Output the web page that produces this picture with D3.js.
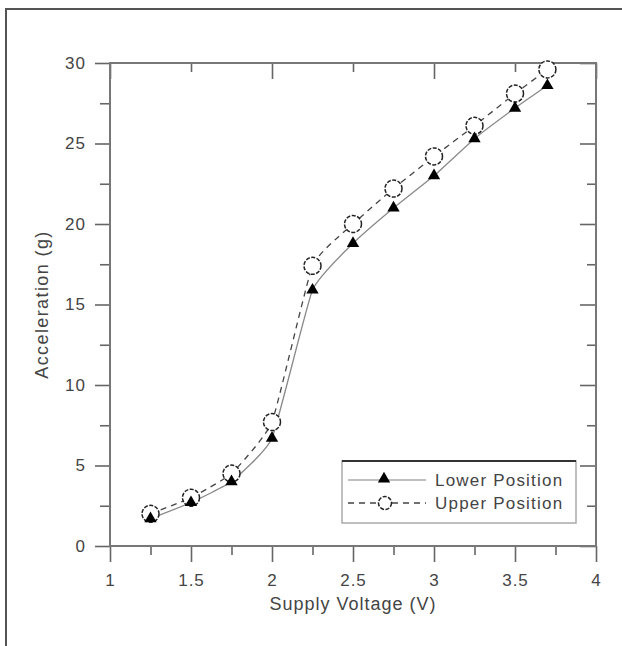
<!DOCTYPE html>
<html>
<head>
<meta charset="utf-8">
<script src="https://cdn.jsdelivr.net/npm/d3@7"></script>
<style>
  html, body { margin: 0; padding: 0; background: #fff; }
  svg text { font-family: "Liberation Sans", Arial, sans-serif; fill: #444; }
</style>
</head>
<body>
<svg id="chart" width="622" height="646"></svg>
<script>
// supply voltage (V)
const voltage = [1.25, 1.5, 1.75, 2, 2.25, 2.5, 2.75, 3, 3.25, 3.5, 3.7];
// acceleration (g)
const lowerPosition = [1.7, 2.7, 4.0, 6.7, 15.9, 18.8, 21.0, 23.0, 25.3, 27.2, 28.6];
const upperPosition = [2.0, 3.0, 4.5, 7.7, 17.4, 20.0, 22.2, 24.2, 26.1, 28.1, 29.6];

const xMajor = [1, 1.5, 2, 2.5, 3, 3.5, 4];
const xMinor = [1.25, 1.75, 2.25, 2.75, 3.25, 3.75];
const xTopMajor = [1, 2, 3, 4];
const xTopMinor = [1.5, 2.5, 3.5];
const yMajor = [0, 5, 10, 15, 20, 25, 30];
const yMinor = [2.5, 7.5, 12.5, 17.5, 22.5, 27.5];

const seriesNames = ['Lower Position', 'Upper Position'];

const LEFT = 110, RIGHT = 596, TOP = 63, BOTTOM = 546;
const MAJOR = 16, MINOR = 9;

const svg = d3.select('#chart');

// outer frame (only top and left edges visible)
svg.append('path')
    .attr('d', 'M6,646 L6,9 L622,9')
    .attr('fill', 'none')
    .attr('stroke', '#555')
    .attr('stroke-width', 2);

const x = d3.scaleLinear().domain([1, 4]).range([LEFT, RIGHT]);
const y = d3.scaleLinear().domain([0, 30]).range([BOTTOM, TOP]);

function styleAxis (g) {
    g.select('.domain').remove();
    g.selectAll('.tick line').attr('stroke', '#666').attr('stroke-width', 1.6);
    g.selectAll('.tick text')
        .attr('fill', '#444')
        .style('font-size', '17px')
        .style('letter-spacing', '1px');
}

// bottom axis
svg.append('g')
    .attr('transform', `translate(0,${BOTTOM})`)
    .call(d3.axisBottom(x).tickValues(xMajor).tickSize(MAJOR).tickPadding(12)
        .tickFormat(d3.format('')))
    .call(styleAxis);
svg.append('g')
    .attr('transform', `translate(0,${BOTTOM})`)
    .call(d3.axisBottom(x).tickValues(xMinor).tickSize(MINOR).tickFormat(''))
    .call(styleAxis);

// top axis, ticks inward
svg.append('g')
    .attr('transform', `translate(0,${TOP})`)
    .call(d3.axisTop(x).tickValues(xTopMajor).tickSize(-MAJOR).tickFormat(''))
    .call(styleAxis);
svg.append('g')
    .attr('transform', `translate(0,${TOP})`)
    .call(d3.axisTop(x).tickValues(xTopMinor).tickSize(-MINOR).tickFormat(''))
    .call(styleAxis);

// left axis
svg.append('g')
    .attr('transform', `translate(${LEFT},0)`)
    .call(d3.axisLeft(y).tickValues(yMajor).tickSize(15).tickPadding(9))
    .call(styleAxis);
svg.append('g')
    .attr('transform', `translate(${LEFT},0)`)
    .call(d3.axisLeft(y).tickValues(yMinor).tickSize(10).tickFormat(''))
    .call(styleAxis);

// right axis, ticks inward
svg.append('g')
    .attr('transform', `translate(${RIGHT},0)`)
    .call(d3.axisRight(y).tickValues(yMajor).tickSize(-MAJOR).tickFormat(''))
    .call(styleAxis);
svg.append('g')
    .attr('transform', `translate(${RIGHT},0)`)
    .call(d3.axisRight(y).tickValues(yMinor).tickSize(-MINOR).tickFormat(''))
    .call(styleAxis);

// axis frame lines
svg.append('rect')
    .attr('x', LEFT).attr('y', TOP)
    .attr('width', RIGHT - LEFT).attr('height', BOTTOM - TOP)
    .attr('fill', 'none')
    .attr('stroke', '#777')
    .attr('stroke-width', 2);

// axis titles
svg.append('text')
    .attr('x', (LEFT + RIGHT) / 2)
    .attr('y', 610)
    .attr('text-anchor', 'middle')
    .style('font-size', '18px')
    .style('letter-spacing', '1px')
    .text('Supply Voltage (V)');

svg.append('text')
    .attr('transform', `translate(48,${(TOP + BOTTOM) / 2}) rotate(-90)`)
    .attr('text-anchor', 'middle')
    .style('font-size', '18px')
    .style('letter-spacing', '1.4px')
    .text('Acceleration (g)');

// lines
const line = d3.line()
    .x(d => x(d[0]))
    .y(d => y(d[1]))
    .curve(d3.curveCardinal.tension(0.6));

const lowerData = d3.zip(voltage, lowerPosition);
const upperData = d3.zip(voltage, upperPosition);

svg.append('path')
    .attr('d', line(lowerData))
    .attr('fill', 'none')
    .attr('stroke', '#888')
    .attr('stroke-width', 1.3);

svg.append('path')
    .attr('d', line(upperData))
    .attr('fill', 'none')
    .attr('stroke', '#444')
    .attr('stroke-width', 1.3)
    .attr('stroke-dasharray', '6,5');

const triangle = d3.symbol().type(d3.symbolTriangle).size(66);

// upper position markers
svg.append('g')
    .selectAll('circle')
    .data(upperData)
    .join('circle')
    .attr('cx', d => x(d[0]))
    .attr('cy', d => y(d[1]))
    .attr('r', 8.5)
    .attr('fill', '#fff')
    .attr('stroke', '#222')
    .attr('stroke-width', 1.5)
    .attr('stroke-dasharray', '4,1.5');

// lower position markers
svg.append('g')
    .selectAll('path')
    .data(lowerData)
    .join('path')
    .attr('d', triangle)
    .attr('transform', d => `translate(${x(d[0])},${y(d[1])})`)
    .attr('fill', '#000');

// legend
const legend = svg.append('g');
legend.append('rect')
    .attr('x', 342).attr('y', 461)
    .attr('width', 234).attr('height', 62)
    .attr('fill', '#fff')
    .attr('stroke', '#aaa')
    .attr('stroke-width', 1.5);
legend.append('line')
    .attr('x1', 342).attr('x2', 576)
    .attr('y1', 461).attr('y2', 461)
    .attr('stroke', '#333')
    .attr('stroke-width', 2);

const rows = [480, 503];
seriesNames.forEach((name, i) => {
    const ly = rows[i];
    legend.append('line')
        .attr('x1', 348).attr('x2', 426)
        .attr('y1', ly).attr('y2', ly)
        .attr('stroke', i === 0 ? '#aaa' : '#444')
        .attr('stroke-width', 1.3)
        .attr('stroke-dasharray', i === 0 ? null : '6,5');
    if (i === 0) {
        legend.append('path')
            .attr('d', triangle)
            .attr('transform', `translate(384,${ly - 1})`)
            .attr('fill', '#000');
    } else {
        legend.append('circle')
            .attr('cx', 385).attr('cy', ly)
            .attr('r', 6.5)
            .attr('fill', '#fff')
            .attr('stroke', '#222')
            .attr('stroke-width', 1.5)
            .attr('stroke-dasharray', '4,1.5');
    }
    legend.append('text')
        .attr('x', 435)
        .attr('y', ly + 6)
        .style('font-size', '17px')
        .style('letter-spacing', '1.2px')
        .text(name);
});
</script>
</body>
</html>
